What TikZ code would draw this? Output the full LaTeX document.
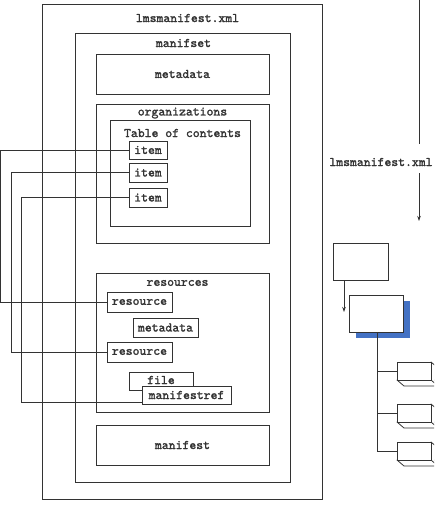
\documentclass[tikz,border=0pt]{standalone}
\usepackage{fontspec}
\setmainfont{Liberation Mono}
\newfontfamily\lblfam{lmmono10-regular.otf}[FakeBold=1.6]
\usetikzlibrary{arrows.meta}
\definecolor{ln}{HTML}{333333}
\definecolor{shad}{HTML}{4472C4}
\newcommand\lblfont{\lblfam\fontsize{13.1}{14}\selectfont}
\tikzset{
  box/.style={draw=ln, line width=0.8pt, inner sep=0pt, fill=white,
    font=\lblfont, text=ln},
  cont/.style={draw=ln, line width=0.8pt, inner sep=0pt},
  lbl/.style={inner sep=0pt, font=\lblfont, text=ln},
  conn/.style={draw=ln, line width=0.8pt},
  arr/.style={conn, -{Stealth[length=5pt,width=3.5pt]}},
}
\begin{document}
\begin{tikzpicture}[x=1pt,y=-1pt]
\clip (0,0) rectangle (434,506);
\fill[white] (0,0) rectangle (434,506);
% containers
\node[cont, minimum width=280pt, minimum height=495pt] (outer) at (182,251.5) {};
\node[lbl] (outert) at (187.5,18) {lmsmanifest.xml};
\node[cont, minimum width=215pt, minimum height=449pt] (mset) at (182.5,257.5) {};
\node[lbl] (msett) at (183.5,43) {manifset};
\node[box, minimum width=173pt, minimum height=40pt] (meta) at (182.5,74) {metadata};
\node[cont, minimum width=173pt, minimum height=139pt] (orgs) at (182.5,173.5) {};
\node[lbl] (orgst) at (182.5,113) {organizations};
\node[cont, minimum width=140pt, minimum height=106pt] (toc) at (180,173) {};
\node[lbl] (toct) at (182.5,133) {Table of contents};
\node[box, minimum width=38pt, minimum height=18pt] (item1) at (148,150) {item};
\node[box, minimum width=38pt, minimum height=19pt] (item2) at (148,172.5) {item};
\node[box, minimum width=38pt, minimum height=19pt] (item3) at (148,197.5) {item};
\node[cont, minimum width=173pt, minimum height=139pt] (res) at (182.5,342.5) {};
\node[lbl] (rest) at (177.5,283) {resources};
\node[box, minimum width=65pt, minimum height=20pt] (res1) at (139.5,302) {resource};
\node[box, minimum width=65pt, minimum height=19pt] (meta2) at (165.5,327.5) {metadata};
\node[box, minimum width=65pt, minimum height=20pt] (res2) at (139.5,352) {resource};
\node[box, minimum width=64pt, minimum height=18pt] (file) at (161,381) {};
\node[lbl] (filet) at (161,380) {file};
\node[box, minimum width=89pt, minimum height=18pt] (mref) at (186.5,395) {manifestref};
\node[box, minimum width=173pt, minimum height=40pt] (mfst) at (182.5,445) {manifest};
% left connectors
\coordinate (L1) at (0.8,0);
\coordinate (L2) at (11,0);
\coordinate (L3) at (21,0);
\draw[conn] (item1.west) -- (item1.west -| L1) |- (res1.west);
\draw[conn] (item2.west) -- (item2.west -| L2) |- (res2.west);
\draw[conn] (item3.west) -- (item3.west -| L3) |- ([yshift=-7pt]mref.west);
% right side
\node[lbl] (rt) at (381,162) {lmsmanifest.xml};
\coordinate (t0) at (419,0);
\coordinate (t1) at (419,144);
\coordinate (t2) at (419,173);
\coordinate (t3) at (419,221);
\draw[conn] (t0) -- (t1);
\draw[arr] (t2) -- (t3);
\node[box, minimum width=55pt, minimum height=37pt] (b1) at (360.5,261.5) {};
\fill[shad] (356,301) rectangle (410,338);
\node[box, minimum width=54pt, minimum height=37pt] (b2) at (376,313.5) {};
\coordinate (a1) at (344,312);
\draw[arr] (a1 |- b1.south) -- (a1);
\foreach \n/\y in {c1/371, c2/413, c3/451} {
  \draw[conn, fill=white, line join=round] (397,\y+9) -- (404,\y+15) -- (441,\y+15) -- (434,\y+9) -- cycle;
  \draw[conn, fill=white, line join=round] (431,\y-9) -- (438,\y-3) -- (438,\y+15) -- (431,\y+9) -- cycle;
  \node[box, minimum width=34pt, minimum height=18pt] (\n) at (414,\y) {};
}
\coordinate (tr) at (377,0);
\draw[conn] (tr |- b2.south) -- (tr |- c3.west);
\draw[conn] (tr |- c1.west) -- (c1.west);
\draw[conn] (tr |- c2.west) -- (c2.west);
\draw[conn] (tr |- c3.west) -- (c3.west);
\end{tikzpicture}
\end{document}
